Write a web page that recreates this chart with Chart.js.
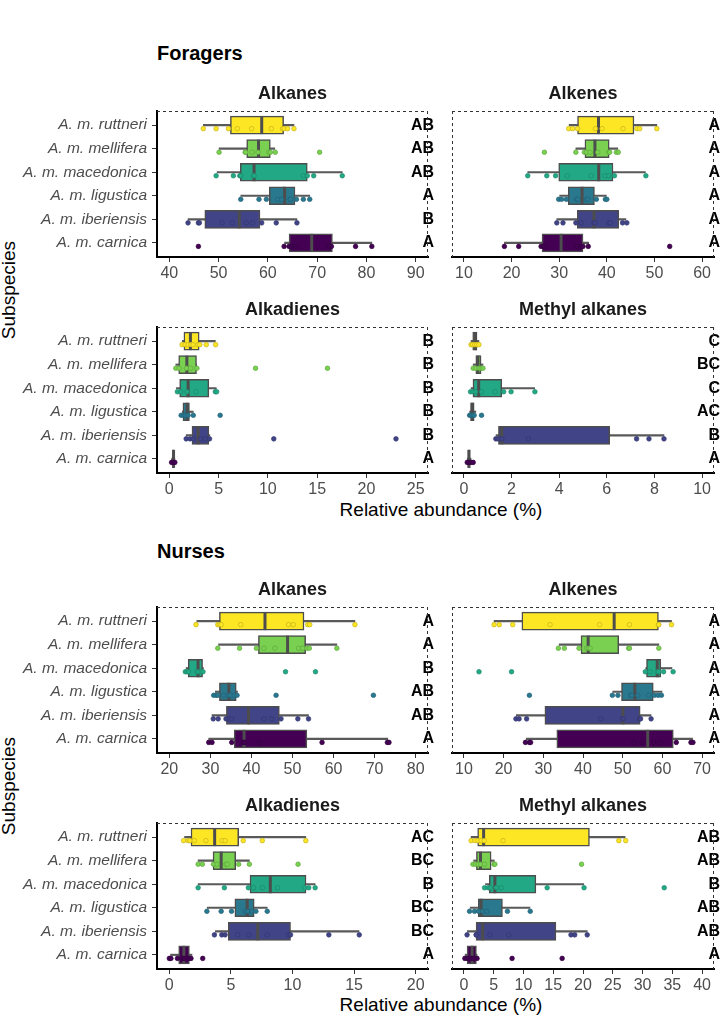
<!DOCTYPE html>
<html lang="en">
<head>
  <meta charset="UTF-8">
  <title>Hydrocarbon classes by subspecies</title>
  <script src="https://cdn.jsdelivr.net/npm/chart.js"></script>
  <style>
    body { margin: 0; background: #fff; font-family: "Liberation Sans", Arial, sans-serif; }
    #page { position: relative; width: 726px; height: 1016px; overflow: hidden; }
    canvas { position: absolute; }
    .section { position: absolute; left: 157px; font-size: 20px; line-height: 24px; font-weight: bold; color: #000; }
    .xtitle { position: absolute; left: 157px; width: 568px; text-align: center; font-size: 19px; line-height: 23px; color: #000; }
    .ytitle { position: absolute; left: -51px; width: 120px; height: 22px; line-height: 22px; text-align: center;
              font-size: 19px; color: #000; transform: rotate(-90deg); }
  </style>
</head>
<body>
<div id="page">
  <div class="section" style="top:41px">Foragers</div>
  <div class="ytitle" style="top:279px">Subspecies</div>
  <div class="xtitle" style="top:498px">Relative abundance (%)</div>
  <div class="section" style="top:539px">Nurses</div>
  <div class="ytitle" style="top:775px">Subspecies</div>
  <div class="xtitle" style="top:993px">Relative abundance (%)</div>
</div>

<script>
const subspecies = ['A. m. ruttneri', 'A. m. mellifera', 'A. m. macedonica', 'A. m. ligustica', 'A. m. iberiensis', 'A. m. carnica'];
const fillColors = ['#FDE725', '#7AD151', '#22A884', '#2A788E', '#414487', '#440154'];
const edgeColors = ['#c4b21a', '#5ea63c', '#1a8a6b', '#21627a', '#33376e', '#34013f'];

// box stats per subspecies: [whisker low, q1, median, q3, whisker high]
// ---- Foragers ----
const fAlkanesStats = [[46.9, 52.4, 58.75, 63.2, 65.3], [50.1, 55.7, 58.1, 60.5, 61.4], [49.7, 54.4, 57.2, 68.0, 75.1],
                       [54.5, 60.3, 63.4, 65.5, 68.5], [43.8, 47.2, 54.2, 58.4, 65.9], [63.4, 64.3, 68.9, 73.1, 81.1]];
const fAlkanesPoints = [
  [46.9, 49.5, 52.0, 53.8, 56.7, 60.7, 63.0, 63.3, 64.0, 65.3],
  [50.1, 55.4, 55.5, 56.8, 58.0, 60.2, 60.5, 61.5, 70.5],
  [49.5, 53.0, 54.3, 54.5, 57.1, 57.2, 67.2, 68.0, 69.3, 75.1],
  [54.5, 58.2, 59.7, 62.0, 62.8, 64.5, 64.6, 65.8, 67.2, 68.5],
  [43.8, 45.9, 46.1, 50.7, 52.8, 55.6, 56.9, 58.75, 61.7, 65.9],
  [45.9, 63.3, 64.3, 64.9, 65.7, 72.4, 72.9, 77.8, 81.1]];
const fAlkanesLetters = ['AB', 'AB', 'AB', 'A', 'B', 'A'];
const fAlkanesTicks = [40, 50, 60, 70, 80, 90];

const fAlkenesStats = [[32.1, 33.85, 38.25, 45.7, 50.5], [33.5, 35.4, 37.5, 40.5, 42.3], [23.4, 29.9, 38.3, 41.3, 48.1],
                       [30.1, 31.9, 34.8, 37.4, 39.9], [29.5, 33.8, 37.3, 42.5, 44.0], [18.5, 26.4, 30.4, 35.0, 36.2]];
const fAlkenesPoints = [
  [32.0, 32.8, 33.85, 37.6, 39.0, 43.4, 46.3, 46.9, 50.5],
  [26.9, 33.5, 35.3, 35.7, 36.5, 38.1, 40.4, 40.6, 42.0, 42.4],
  [23.4, 27.4, 29.25, 31.7, 36.7, 39.6, 40.4, 41.6, 48.2],
  [29.9, 30.5, 31.5, 33.6, 33.9, 35.7, 36.0, 37.8, 39.7, 40.0],
  [29.5, 30.8, 33.5, 34.6, 37.3, 37.5, 40.4, 40.7, 43.3, 44.2],
  [18.5, 21.5, 26.2, 26.75, 26.9, 33.7, 34.6, 35.0, 36.1, 53.2]];
const fAlkenesLetters = ['A', 'A', 'A', 'A', 'A', 'A'];
const fAlkenesTicks = [10, 20, 30, 40, 50, 60];

const fAlkadienesStats = [[1.32, 1.48, 2.14, 3.03, 4.67], [0.66, 0.95, 1.78, 2.76, 2.76], [0.72, 1.05, 1.91, 4.01, 4.77],
                          [1.32, 1.38, 1.81, 2.04, 2.43], [1.71, 2.3, 2.93, 4.01, 4.11], [0.23, 0.33, 0.43, 0.49, 0.56]];
const fAlkadienesPoints = [
  [1.3, 1.6, 1.9, 2.2, 2.4, 2.9, 3.1, 3.75, 4.7],
  [0.66, 0.99, 1.74, 2.17, 2.8, 8.75, 16.05],
  [0.82, 1.15, 1.8, 2.73, 4.67, 4.8],
  [1.2, 1.45, 1.64, 1.9, 2.43, 5.16],
  [1.71, 2.1, 2.43, 3.16, 3.68, 4.08, 10.6, 23.0],
  [0.23, 0.4, 0.56]];
const fAlkadienesLetters = ['B', 'B', 'B', 'B', 'B', 'A'];
const fAlkadienesTicks = [0, 5, 10, 15, 20, 25];

const fMethylStats = [[0.30, 0.37, 0.47, 0.55, 0.63], [0.39, 0.5, 0.59, 0.72, 0.8], [0.30, 0.38, 0.62, 1.59, 2.97],
                      [0.24, 0.28, 0.35, 0.43, 0.5], [1.35, 1.45, 1.59, 6.12, 8.4], [0.14, 0.17, 0.21, 0.26, 0.3]];
const fMethylPoints = [
  [0.30, 0.37, 0.46, 0.54, 0.63],
  [0.39, 0.5, 0.63, 0.72, 0.8],
  [0.28, 0.38, 0.49, 0.74, 1.31, 1.67, 1.98, 2.98],
  [0.24, 0.3, 0.38, 0.43, 0.74],
  [1.34, 1.43, 1.59, 2.71, 7.25, 7.77, 8.4],
  [0.14, 0.21, 0.3, 0.39]];
const fMethylLetters = ['C', 'BC', 'C', 'AC', 'B', 'A'];
const fMethylTicks = [0, 2, 4, 6, 8, 10];

// ---- Nurses ----
const nAlkanesStats = [[26.7, 32.2, 43.3, 52.8, 65.2], [32.0, 41.7, 48.8, 53.2, 60.8], [24.1, 24.6, 27.0, 28.1, 28.3],
                       [31.2, 32.2, 34.5, 36.3, 36.6], [30.4, 33.9, 39.3, 46.8, 53.9], [29.6, 35.8, 38.2, 53.5, 73.2]];
const nAlkanesPoints = [
  [26.5, 31.8, 32.2, 32.6, 37.4, 49.05, 50.2, 53.7, 54.2, 65.2],
  [31.8, 37.1, 41.2, 43.05, 45.7, 51.5, 52.5, 53.5, 54.1, 60.8],
  [23.9, 24.3, 24.7, 26.7, 27.1, 27.8, 28.2, 48.3, 55.6],
  [30.8, 31.4, 31.8, 33.3, 34.4, 34.9, 35.8, 36.5, 46.0, 69.7],
  [30.7, 31.9, 33.8, 34.6, 35.2, 43.05, 44.9, 47.2, 51.3, 53.9],
  [29.6, 30.4, 35.2, 38.1, 38.4, 41.9, 57.2, 73.1, 73.5]];
const nAlkanesLetters = ['A', 'A', 'B', 'AB', 'AB', 'A'];
const nAlkanesTicks = [20, 30, 40, 50, 60, 70, 80];

const nAlkenesStats = [[17.6, 24.6, 47.85, 59.0, 62.3], [34.0, 39.5, 41.3, 49.0, 59.1], [55.8, 56.0, 58.7, 59.6, 62.4],
                       [47.5, 49.7, 53.05, 57.7, 59.9], [23.2, 30.4, 50.05, 54.4, 57.15], [25.7, 33.4, 56.3, 62.75, 67.6]];
const nAlkenesPoints = [
  [17.6, 18.9, 22.3, 31.7, 44.2, 51.7, 59.0, 59.1, 62.3],
  [33.8, 35.3, 39.0, 40.9, 41.4, 41.8, 51.5, 51.7, 59.1],
  [13.8, 22.0, 55.7, 56.9, 58.7, 59.1, 60.3, 62.7],
  [26.5, 47.4, 48.8, 52.0, 52.3, 53.8, 56.5, 58.0, 58.9, 59.75],
  [23.1, 23.9, 25.8, 44.5, 49.97, 50.1, 54.3, 54.5, 57.15],
  [25.5, 26.5, 26.8, 52.8, 54.9, 57.8, 59.6, 63.5, 67.2, 67.7]];
const nAlkenesLetters = ['A', 'A', 'A', 'A', 'A', 'A'];
const nAlkenesTicks = [10, 20, 30, 40, 50, 60, 70];

const nAlkadienesStats = [[1.24, 1.76, 3.68, 5.63, 11.08], [2.34, 3.55, 4.21, 5.39, 6.5], [2.34, 6.55, 8.2, 11.1, 11.84],
                          [3.08, 5.32, 6.32, 6.89, 7.95], [3.74, 4.79, 7.18, 9.84, 15.4], [0.1, 0.76, 1.18, 1.63, 1.84]];
const nAlkadienesPoints = [
  [1.16, 1.53, 1.68, 2.03, 2.97, 4.29, 4.53, 6.0, 7.55, 11.08],
  [2.34, 2.68, 3.58, 3.87, 4.6, 4.71, 5.63, 6.5, 10.45],
  [2.34, 4.47, 6.42, 6.84, 7.55, 8.79, 11.0, 11.32, 11.84],
  [3.05, 4.21, 5.05, 6.18, 6.37, 6.71, 7.03, 7.95],
  [3.66, 4.26, 4.53, 5.55, 6.45, 7.95, 9.68, 9.84, 12.95, 15.42],
  [0.0, 0.13, 0.66, 1.1, 1.24, 1.58, 1.76, 2.71]];
const nAlkadienesLetters = ['AC', 'BC', 'B', 'BC', 'BC', 'A'];
const nAlkadienesTicks = [0, 5, 10, 15, 20];

const nMethylStats = [[1.21, 2.31, 3.31, 21.08, 27.07], [1.63, 2.1, 2.79, 4.57, 5.1], [3.63, 4.26, 5.2, 12.09, 20.13],
                      [1.05, 2.42, 2.89, 6.47, 11.09], [0.58, 2.05, 3.15, 15.45, 20.71], [0.21, 0.53, 1.37, 2.1, 2.21]];
const nMethylPoints = [
  [1.21, 1.89, 2.37, 2.89, 3.42, 6.57, 26.02, 27.17],
  [1.52, 1.94, 2.37, 2.79, 3.47, 5.05, 5.2, 19.76],
  [3.47, 4.1, 4.42, 5.41, 6.25, 13.98, 20.18, 33.64],
  [0.95, 1.79, 2.47, 3.1, 3.84, 7.31, 11.14],
  [0.53, 2.05, 2.1, 4.36, 7.52, 17.98, 18.61, 20.71],
  [0.16, 0.53, 0.84, 1.21, 1.63, 2.21, 8.09, 16.5]];
const nMethylLetters = ['AB', 'AB', 'B', 'AB', 'AB', 'A'];
const nMethylTicks = [0, 5, 10, 15, 20, 25, 30, 35, 40];

Chart.defaults.font.family = '"Liberation Sans", Arial, sans-serif';

const rows = [0, 1, 2, 3, 4, 5];
const JIT = 0.15; // points sit a little below the box centre

// dashed panel frame (top, right, and left on the right-hand panels)
const framePlugin = {
  id: 'frame',
  beforeDatasetsDraw(chart, args, opts) {
    const { ctx, chartArea: a } = chart;
    ctx.save();
    ctx.strokeStyle = '#333';
    ctx.lineWidth = 1;
    ctx.setLineDash([3, 3]);
    ctx.beginPath();
    ctx.moveTo(a.left, a.top + 0.5); ctx.lineTo(a.right, a.top + 0.5);
    ctx.moveTo(a.right - 0.5, a.top); ctx.lineTo(a.right - 0.5, a.bottom);
    if (opts.dashLeft) { ctx.moveTo(a.left + 0.5, a.top); ctx.lineTo(a.left + 0.5, a.bottom); }
    ctx.stroke();
    ctx.restore();
  }
};

const panels = [
  { title: 'Alkanes', stats: fAlkanesStats, points: fAlkanesPoints, letters: fAlkanesLetters, ticks: fAlkanesTicks, min: 37.5, max: 92.5, col: 0, top: 81 },
  { title: 'Alkenes', stats: fAlkenesStats, points: fAlkenesPoints, letters: fAlkenesLetters, ticks: fAlkenesTicks, min: 7.5, max: 62.5, col: 1, top: 81 },
  { title: 'Alkadienes', stats: fAlkadienesStats, points: fAlkadienesPoints, letters: fAlkadienesLetters, ticks: fAlkadienesTicks, min: -1.25, max: 26.25, col: 0, top: 297 },
  { title: 'Methyl alkanes', stats: fMethylStats, points: fMethylPoints, letters: fMethylLetters, ticks: fMethylTicks, min: -0.5, max: 10.5, col: 1, top: 297 },
  { title: 'Alkanes', stats: nAlkanesStats, points: nAlkanesPoints, letters: nAlkanesLetters, ticks: nAlkanesTicks, min: 17, max: 83, col: 0, top: 577 },
  { title: 'Alkenes', stats: nAlkenesStats, points: nAlkenesPoints, letters: nAlkenesLetters, ticks: nAlkenesTicks, min: 7, max: 73, col: 1, top: 577 },
  { title: 'Alkadienes', stats: nAlkadienesStats, points: nAlkadienesPoints, letters: nAlkadienesLetters, ticks: nAlkadienesTicks, min: -1, max: 21, col: 0, top: 793 },
  { title: 'Methyl alkanes', stats: nMethylStats, points: nMethylPoints, letters: nMethylLetters, ticks: nMethylTicks, min: -2, max: 42, col: 1, top: 793 }
];

function drawPanel(p) {
  const left = p.col === 0;
  const canvas = document.createElement('canvas');
  canvas.width = left ? 440 : 286;
  canvas.height = 206;
  canvas.style.left = (left ? 0 : 440) + 'px';
  canvas.style.top = p.top + 'px';
  document.getElementById('page').appendChild(canvas);

  const pts = [];
  p.points.forEach((vals, i) => vals.forEach(v => pts.push({ x: v, y: i + JIT, k: i })));

  new Chart(canvas, {
    type: 'scatter',
    data: {
      datasets: [
        { // jittered observations
          type: 'scatter', data: pts, order: 0,
          pointRadius: 2.3, borderWidth: 0.7,
          pointBackgroundColor: pts.map(q => fillColors[q.k]),
          pointBorderColor: pts.map(q => edgeColors[q.k])
        },
        { // medians
          type: 'scatter', order: 1,
          data: p.stats.map((s, i) => ({ x: s[2], y: i })),
          pointStyle: 'line', pointRadius: 9, rotation: 90,
          borderColor: '#4d4d4d', borderWidth: 3
        },
        { // boxes q1..q3
          type: 'bar', indexAxis: 'y', grouped: false, order: 2,
          data: p.stats.map((s, i) => ({ x: [s[1], s[3]], y: i })),
          backgroundColor: fillColors, borderColor: '#4d4d4d', borderWidth: 1.5,
          borderSkipped: false, barThickness: 18
        },
        { // whiskers
          type: 'bar', indexAxis: 'y', grouped: false, order: 3,
          data: p.stats.map((s, i) => ({ x: [s[0], s[4]], y: i })),
          backgroundColor: '#595959', borderWidth: 0, barThickness: 1.5
        }
      ]
    },
    options: {
      responsive: false,
      animation: false,
      devicePixelRatio: 1,
      events: [],
      layout: { padding: { left: 0, right: left ? 5 : 1, top: 0, bottom: 0 } },
      plugins: {
        legend: { display: false },
        tooltip: { enabled: false },
        title: {
          display: true, text: p.title, fullSize: false, color: '#1a1a1a',
          font: { size: 18, weight: 'bold' }, padding: { top: 2, bottom: 6.4 }
        },
        frame: { dashLeft: !left }
      },
      scales: {
        x: {
          type: 'linear', position: 'bottom', min: p.min, max: p.max, offset: false,
          afterBuildTicks: a => { a.ticks = p.ticks.map(v => ({ value: v })); },
          afterFit: a => { a.height = 30; },
          ticks: { color: '#4d4d4d', font: { size: 16 }, padding: 2 },
          grid: { offset: false, drawOnChartArea: false, tickLength: 5, color: '#333' },
          border: { display: true, color: '#000', width: 2 }
        },
        y: {
          type: 'linear', position: 'left', min: -0.6, max: 5.6, reverse: true, offset: false,
          afterBuildTicks: a => { a.ticks = rows.map(v => ({ value: v })); },
          afterFit: a => { a.width = left ? 157 : 7; },
          ticks: { display: left, callback: v => subspecies[v], color: '#4d4d4d', font: { size: 15.5, style: 'italic' }, padding: 5 },
          grid: { display: left, offset: false, drawOnChartArea: false, tickLength: 5, color: '#333' },
          border: { display: left, color: '#000', width: 2 }
        },
        y2: {
          type: 'linear', position: 'right', min: -0.6, max: 5.6, reverse: true, offset: false,
          afterBuildTicks: a => { a.ticks = rows.map(v => ({ value: v })); },
          afterFit: a => { a.width = 0; },
          ticks: { mirror: true, callback: v => p.letters[v], color: '#000', font: { size: 16, weight: 'bold' }, padding: 6 },
          grid: { display: false },
          border: { display: false }
        }
      }
    },
    plugins: [framePlugin]
  });
}

panels.forEach(drawPanel);
</script>
</body>
</html>
